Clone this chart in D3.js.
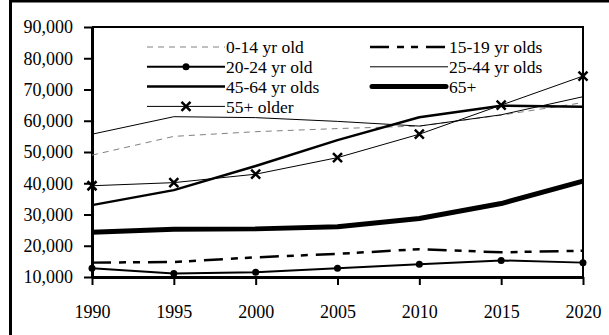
<!DOCTYPE html>
<html>
<head>
<meta charset="utf-8">
<script src="https://cdn.jsdelivr.net/npm/d3@7"></script>
<style>
  body { margin: 0; background: #fff; }
  svg text { font-family: 'Liberation Serif', 'Times New Roman', Times, serif; fill: #000; font-size: 18px; }
</style>
</head>
<body>
<div id="chart"></div>
<script>
// data
const years = [1990, 1995, 2000, 2005, 2010, 2015, 2020];
const age0_14  = [49000, 55000, 56500, 57500, 58300, 61800, 65800];
const age15_19 = [14600, 14800, 16300, 17400, 18900, 17900, 18400];
const age20_24 = [12800, 11100, 11500, 12800, 14100, 15300, 14600];
const age25_44 = [55700, 61300, 61000, 59800, 58300, 61900, 67700];
const age45_64 = [33000, 37800, 45500, 53800, 61100, 64800, 64500];
const age65    = [24300, 25300, 25400, 26100, 28700, 33500, 40700];
const age55    = [39200, 40200, 42900, 48200, 55700, 65000, 74300];
const yTicks = [10000, 20000, 30000, 40000, 50000, 60000, 70000, 80000, 90000];

// line styles per series
const series = [
  { name: "0-14 yr old",   values: age0_14,  stroke: "#808080", width: 1,   dash: "6,5" },
  { name: "15-19 yr olds", values: age15_19, stroke: "#000", width: 2.5, dash: "19,8,7,7,7,8" },
  { name: "20-24 yr old",  values: age20_24, stroke: "#000", width: 2,   marker: "dot" },
  { name: "25-44 yr olds", values: age25_44, stroke: "#000", width: 1 },
  { name: "45-64 yr olds", values: age45_64, stroke: "#000", width: 2.5 },
  { name: "65+",           values: age65,    stroke: "#000", width: 5,   cap: "round" },
  { name: "55+ older",     values: age55,    stroke: "#000", width: 1,   marker: "cross" }
];

const W = 609, H = 335;
const serif = "'Liberation Serif', 'Times New Roman', Times, serif";
const svg = d3.select("#chart").append("svg")
  .attr("width", W).attr("height", H);

// outer frame (only top and left show)
svg.append("rect")
  .attr("x", 10.5).attr("y", 1)
  .attr("width", 640).attr("height", 400)
  .attr("fill", "none").attr("stroke", "#000").attr("stroke-width", 3);

const xScale = d3.scaleLinear().domain([1990, 2020]).range([92, 583]);
const yScale = d3.scaleLinear().domain([10000, 90000]).range([277, 27]);

// top and right plot border
svg.append("path")
  .attr("d", `M${xScale(1990)},${yScale(90000)}H${xScale(2020)}V${yScale(10000)}`)
  .attr("fill", "none").attr("stroke", "#000").attr("stroke-width", 2);

// y axis
const yAxis = svg.append("g")
  .attr("transform", "translate(" + xScale(1990) + ",0)")
  .call(d3.axisLeft(yScale).tickValues(yTicks).tickSize(8).tickSizeOuter(0)
    .tickPadding(11).tickFormat(d3.format(",")));
yAxis.attr("font-family", null).attr("font-size", null);
yAxis.select(".domain").attr("stroke-width", 3);
yAxis.selectAll(".tick line").attr("stroke-width", 2);
yAxis.selectAll("text").style("font-family", serif).style("font-size", "18px");

// x axis
const xAxis = svg.append("g")
  .attr("transform", "translate(0," + yScale(10000) + ")")
  .call(d3.axisBottom(xScale).tickValues(years).tickSize(8).tickSizeOuter(0)
    .tickPadding(20).tickFormat(d3.format("d")));
xAxis.attr("font-family", null).attr("font-size", null);
xAxis.select(".domain").attr("stroke-width", 3);
xAxis.selectAll(".tick line").attr("stroke-width", 2);
xAxis.selectAll("text").style("font-family", serif).style("font-size", "18px");

const line = d3.line()
  .x(function(d, i) { return xScale(years[i]); })
  .y(function(d) { return yScale(d); });

function drawCross(g, x, y, s) {
  g.append("path")
    .attr("d", `M${x - s},${y - s}L${x + s},${y + s}M${x - s},${y + s}L${x + s},${y - s}`)
    .attr("stroke", "#000").attr("stroke-width", 2.5).attr("fill", "none");
}

// lines
const plot = svg.append("g");
series.forEach(function(s) {
  plot.append("path")
    .attr("d", line(s.values))
    .attr("fill", "none")
    .attr("stroke", s.stroke)
    .attr("stroke-width", s.width)
    .attr("stroke-dasharray", s.dash || null)
    .attr("stroke-linejoin", "round");
  if (s.marker === "dot") {
    s.values.forEach(function(v, i) {
      plot.append("circle")
        .attr("cx", xScale(years[i])).attr("cy", yScale(v))
        .attr("r", 3.5).attr("fill", "#000");
    });
  }
  if (s.marker === "cross") {
    s.values.forEach(function(v, i) { drawCross(plot, xScale(years[i]), yScale(v), 4.5); });
  }
});

// legend: two columns
const legendOrder = ["0-14 yr old", "15-19 yr olds", "20-24 yr old", "25-44 yr olds",
                     "45-64 yr olds", "65+", "55+ older"];
const colX = [147, 370], lineLen = 78, rowY0 = 47, rowStep = 19.8;
const legend = svg.append("g");
legendOrder.forEach(function(name, i) {
  const s = series.find(function(d) { return d.name === name; });
  const x0 = colX[i % 2], y = rowY0 + Math.floor(i / 2) * rowStep;
  legend.append("line")
    .attr("x1", x0 + (s.cap ? 2 : 0)).attr("x2", x0 + lineLen - (s.cap ? 2 : 0))
    .attr("y1", y).attr("y2", y)
    .attr("stroke", s.stroke).attr("stroke-width", s.width)
    .attr("stroke-dasharray", s.dash || null)
    .attr("stroke-linecap", s.cap || "butt");
  if (s.marker === "dot") {
    legend.append("circle").attr("cx", x0 + lineLen / 2).attr("cy", y).attr("r", 3.5).attr("fill", "#000");
  }
  if (s.marker === "cross") drawCross(legend, x0 + lineLen / 2, y, 4.5);
  legend.append("text")
    .attr("x", x0 + lineLen + 1).attr("y", y)
    .attr("dy", "0.35em")
    .style("font-family", serif).style("font-size", "17.5px")
    .text(name);
});
</script>
</body>
</html>
